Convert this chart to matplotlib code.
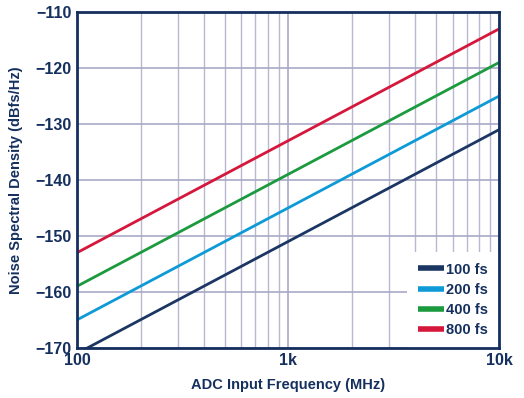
import matplotlib.pyplot as plt
from matplotlib.ticker import FixedLocator, NullFormatter

plt.rcParams['font.family'] = ['Liberation Sans', 'DejaVu Sans']

freq_mhz = [100, 1000, 10000]
nsd_100fs = [-171, -151, -131]
nsd_200fs = [-165, -145, -125]
nsd_400fs = [-159, -139, -119]
nsd_800fs = [-153, -133, -113]
labels = ['100 fs', '200 fs', '400 fs', '800 fs']
colors = ['#1c3663', '#0e9ad6', '#1b9a3e', '#d5173b']

navy = '#15305e'
fig = plt.figure(figsize=(5.24, 3.98), dpi=100)
ax = fig.add_axes([0.147, 0.126, 0.806, 0.844])

for y, lab, c in zip([nsd_100fs, nsd_200fs, nsd_400fs, nsd_800fs], labels, colors):
    ax.plot(freq_mhz, y, color=c, lw=2, label=lab, solid_capstyle='butt')

ax.set_xscale('log')
ax.set_xlim(100, 10000)
ax.set_ylim(-170, -110)
ax.xaxis.set_major_locator(FixedLocator([100, 1000, 10000]))
ax.set_xticklabels(['100', '1k', '10k'])
minors = [m * d for d in (100, 1000) for m in range(2, 10)]
ax.xaxis.set_minor_locator(FixedLocator(minors))
ax.xaxis.set_minor_formatter(NullFormatter())
ax.set_yticks(range(-170, -109, 10))
ax.set_yticklabels(['\u2212%d' % abs(v) for v in range(-170, -109, 10)])

ax.grid(True, which='major', color='#a9a9c6', lw=1.2)
ax.grid(True, which='minor', axis='x', color='#b8b8d0', lw=1.0)
ax.tick_params(which='both', length=0, labelsize=11.5, labelcolor=navy, pad=4)
for lab in ax.get_xticklabels() + ax.get_yticklabels():
    lab.set_fontweight('bold')
for s in ax.spines.values():
    s.set_color(navy)
    s.set_linewidth(2)
    s.set_zorder(10)

ax.set_xlabel('ADC Input Frequency (MHz)', fontsize=10.5, fontweight='bold', color=navy, labelpad=7)
ax.set_ylabel('Noise Spectral Density (dBfs/Hz)', fontsize=10.5, fontweight='bold', color=navy, labelpad=9)

leg = ax.legend(loc='lower right', frameon=True, fancybox=False, fontsize=10.5,
                handlelength=1.8, handletextpad=0.15, borderaxespad=0.0,
                labelspacing=0.42, borderpad=0.75)
leg.get_frame().set_edgecolor('none')
leg.get_frame().set_facecolor('white')
leg.get_frame().set_alpha(1)
for h in leg.get_lines():
    h.set_linewidth(4)
for t in leg.get_texts():
    t.set_color(navy)
    t.set_fontweight('bold')

fig.savefig('out.png', dpi=100)
